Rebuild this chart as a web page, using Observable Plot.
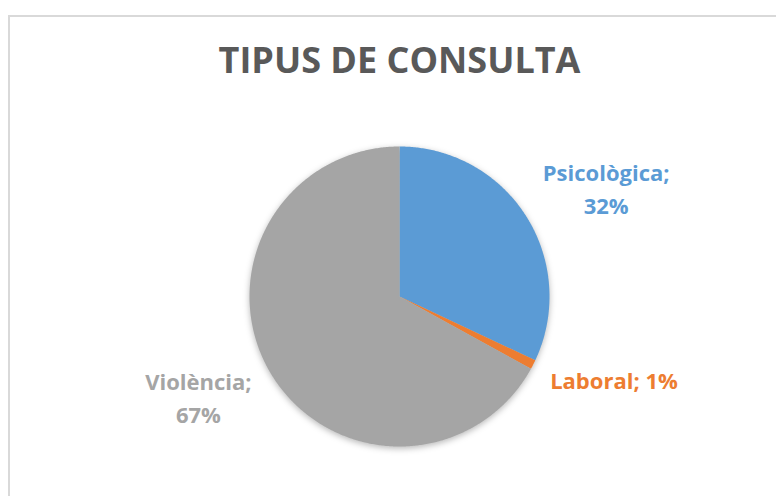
<!DOCTYPE html>
<html>
<head>
<meta charset="utf-8">
<script src="https://cdn.jsdelivr.net/npm/d3@7"></script>
<script src="https://cdn.jsdelivr.net/npm/@observablehq/plot@0.6"></script>
<style>
  html, body { margin: 0; padding: 0; background: #fff; }
  #wrap { position: relative; width: 776px; height: 496px; overflow: hidden; }
  #border { position: absolute; left: 8px; top: 15px; width: 800px; height: 520px; border: 2px solid #d9d9d9; box-sizing: border-box; }
  #chart { position: absolute; left: 0; top: 0; }
</style>
</head>
<body>
<div id="wrap"><div id="border"></div><div id="chart"></div></div>
<script>
const title = "TIPUS DE CONSULTA";
const categories = ["Psicològica", "Laboral", "Violència"];
const values = [32, 1, 67];
const colors = ["#5B9BD5", "#ED7D31", "#A5A5A5"];

// pie geometry (unit circle, angles clockwise from 12 o'clock)
const arcs = d3.pie().sort(null)(values);
const slicePoints = [];
arcs.forEach((a, i) => {
  const cat = categories[i];
  slicePoints.push({cat, x: 0, y: 0});
  const n = Math.max(4, Math.ceil((a.endAngle - a.startAngle) / (Math.PI / 360)));
  for (let k = 0; k <= n; k++) {
    const t = a.startAngle + (a.endAngle - a.startAngle) * k / n;
    slicePoints.push({cat, x: Math.sin(t), y: Math.cos(t)});
  }
  slicePoints.push({cat, x: 0, y: 0});
});

// label anchors at the rim, mid-angle
const labels = arcs.map((a, i) => {
  const m = (a.startAngle + a.endAngle) / 2;
  const cat = categories[i];
  const wrapped = cat !== "Laboral";
  return {cat, x: Math.sin(m), y: Math.cos(m),
          text: cat + ";" + (wrapped ? "\n" : " ") + values[i] + "%"};
});
const offsets = {
  "Psicològica": {dx: 80, dy: -29, anchor: "middle"},
  "Laboral": {dx: 17, dy: 14, anchor: "start"},
  "Violència": {dx: -72, dy: 23, anchor: "middle"}
};

const font = "'Open Sans', 'Noto Sans', sans-serif";

const labelMarks = labels.map(l => Plot.text([l], {
  x: "x", y: "y", text: "text", fill: "cat",
  dx: offsets[l.cat].dx, dy: offsets[l.cat].dy,
  textAnchor: offsets[l.cat].anchor, lineAnchor: "middle",
  lineHeight: 1.5, fontSize: 22, fontWeight: "bold", fontFamily: font
}));

const chart = Plot.plot({
  width: 776, height: 496,
  margin: 0,
  style: {background: "transparent", fontFamily: font, overflow: "visible"},
  x: {domain: [-1, 1], range: [249, 549], axis: null},
  y: {domain: [-1, 1], range: [446, 146], axis: null},
  color: {domain: categories, range: colors},
  marks: [
    Plot.line(slicePoints, {x: "x", y: "y", z: "cat", fill: "cat", stroke: null,
      imageFilter: "drop-shadow(0px 2px 3px rgba(0,0,0,0.28))"}),
    ...labelMarks,
    Plot.text([title], {x: () => 0, frameAnchor: "top", text: d => d, dy: 61,
      lineAnchor: "middle", fontSize: 36, fontWeight: "bold", fill: "#595959", fontFamily: font})
  ]
});
document.getElementById("chart").appendChild(chart);
</script>
</body>
</html>
